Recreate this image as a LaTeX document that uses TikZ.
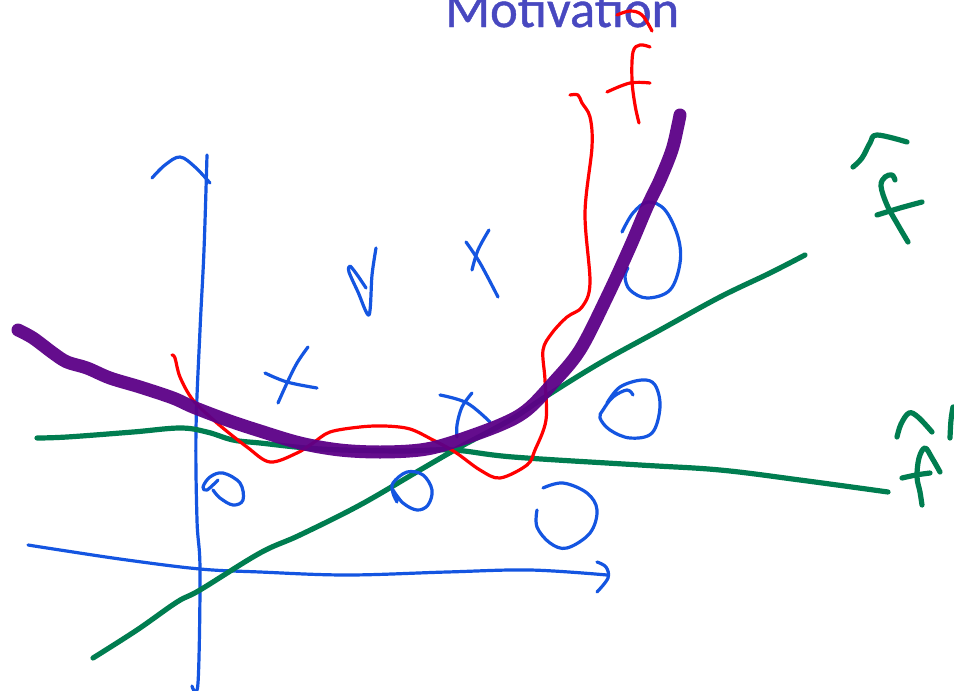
\documentclass[tikz,border=0pt]{standalone}
\usepackage{fontspec}
\newfontfamily\titlefont[FakeBold=0.8]{Carlito}
\definecolor{inkblue}{RGB}{20,85,225}
\definecolor{inkgreen}{RGB}{0,125,80}
\definecolor{inkred}{RGB}{255,0,0}
\definecolor{inkpurple}{RGB}{92,0,135}
\definecolor{titleblue}{RGB}{72,72,192}
\tikzset{
  bluepen/.style={draw=inkblue,line width=3.2pt,line cap=round,line join=round},
  greenpen/.style={draw=inkgreen,line width=5.2pt,line cap=round,line join=round},
  redpen/.style={draw=inkred,line width=3.2pt,line cap=round,line join=round},
  purplepen/.style={draw=inkpurple,line width=13pt,line cap=round,line join=round,opacity=0.95},
  titletext/.style={font=\titlefont\fontsize{52.5}{52.5}\selectfont,text=titleblue,inner sep=0pt,anchor=base west}
}
\begin{document}
\begin{tikzpicture}[x=1pt,y=-1pt]
\useasboundingbox (0,0) rectangle (954,691);
\fill[white] (0,0) rectangle (954,691);
% title
\node[titletext] (title) at (445,27) {Motivation};
% axes
\draw[bluepen] plot[smooth,tension=0.6] coordinates {(207,155) (204,250) (200,330) (196,430) (197,520) (200,570) (198,683) (192,686)};
\draw[bluepen] plot[smooth,tension=0.6] coordinates {(152,178) (165,165) (180,157) (195,167) (210,183)};
\draw[bluepen] plot[smooth,tension=0.6] coordinates {(28,545) (60,550) (127,560) (200,569) (260,572) (347,575) (447,572) (530,570) (607,575)};
\draw[bluepen] plot[smooth,tension=0.6] coordinates {(597,562) (606,567) (608,578) (597,592)};
% green lines
\draw[greenpen] plot[smooth,tension=0.6] coordinates {(93,658) (137,630) (177,602) (200,590) (260,553) (300,535) (360,505) (420,470) (460,447) (510,420) (545,397) (600,363) (660,330) (720,297) (770,273) (805,255)};
\draw[greenpen] plot[smooth,tension=0.6] coordinates {(37,438) (67,437) (133,432) (180,428) (207,432) (233,440) (260,443) (320,449) (400,451) (453,450) (513,457) (640,465) (720,470) (800,480) (888,492)};
% red curve
\draw[redpen] plot[smooth,tension=0.55] coordinates {(172,355) (175,358) (180,377) (193,400) (217,423) (247,447) (270,462) (297,453) (313,443) (330,432) (360,427) (385,426) (410,429) (433,440) (455,452) (480,470) (500,478) (527,465) (535,450) (546,420) (545,380) (543,350) (552,333) (567,317) (582,307) (590,283) (585,213) (592,147) (590,117) (582,103) (578,95) (570,95)};
% red hat f
\draw[redpen] plot[smooth,tension=0.6] coordinates {(617,15) (630,11) (642,15) (652,31)};
\draw[redpen] plot[smooth,tension=0.6] coordinates {(650,47) (640,45) (633,52) (632,80) (635,105) (639,123)};
\draw[redpen] plot[smooth,tension=0.6] coordinates {(607,92) (630,83) (650,83)};
% green hat f (upper)
\draw[greenpen] plot[smooth,tension=0.6] coordinates {(853,167) (862,158) (870,143) (877,135) (907,142)};
\draw[greenpen] plot[smooth,tension=0.6] coordinates {(895,180) (892,175) (885,177) (881,186) (887,205) (898,225) (908,242)};
\draw[greenpen] plot[smooth,tension=0.6] coordinates {(877,215) (900,208) (922,202)};
% green hat f (lower)
\draw[greenpen] plot[smooth,tension=0.6] coordinates {(897,437) (901,424) (909,413) (918,417) (932,432)};
\draw[greenpen] plot[smooth,tension=0.6] coordinates {(950,438) (951,420) (953,407)};
\draw[greenpen] plot[smooth,tension=0.6] coordinates {(940,472) (932,458) (925,448) (919,458) (917,477) (920,492) (922,505)};
\draw[greenpen] plot[smooth,tension=0.6] coordinates {(902,478) (916,475) (930,473)};
% blue marks: crosses
\draw[bluepen] plot[smooth,tension=0.6] coordinates {(265,373) (287,382) (317,388)};
\draw[bluepen] plot[smooth,tension=0.6] coordinates {(308,347) (297,363) (287,383) (278,403)};
\draw[bluepen] plot[smooth,tension=0.5] coordinates {(376,248) (372,275) (369,315) (358,292) (349,272) (350,266) (358,276) (366,288)};
\draw[bluepen] plot[smooth,tension=0.6] coordinates {(466,242) (480,263) (498,297)};
\draw[bluepen] plot[smooth,tension=0.6] coordinates {(489,230) (478,250) (472,270)};
\draw[bluepen] plot[smooth,tension=0.6] coordinates {(440,395) (467,403) (490,422)};
\draw[bluepen] plot[smooth,tension=0.6] coordinates {(472,393) (462,407) (457,425) (457,437)};
% blue marks: circles
\draw[bluepen] plot[smooth,tension=0.6] coordinates {(218,480) (207,490) (203,487) (210,477) (223,473) (240,483) (243,500) (233,505) (220,498) (213,490)};
\draw[bluepen] plot[smooth,tension=0.6] coordinates {(397,502) (393,493) (393,483) (407,472) (423,475) (432,490) (428,505) (417,510) (403,503) (393,490)};
\draw[bluepen] plot[smooth,tension=0.6] coordinates {(543,488) (563,483) (587,493) (597,510) (590,533) (567,548) (550,543) (537,527) (537,510)};
\draw[bluepen] plot[smooth,tension=0.6] coordinates {(622,232) (633,213) (648,202) (665,210) (678,237) (680,263) (670,290) (647,298) (630,290) (625,277) (628,268)};
\draw[bluepen] plot[smooth,tension=0.6] coordinates {(633,395) (627,390) (613,397) (603,410) (600,418) (610,430) (630,438) (652,433) (660,407) (655,385) (642,380) (620,387) (607,403)};
% purple curve
\draw[purplepen] plot[smooth,tension=0.55] coordinates {(18,330) (33,338) (53,353) (67,362) (87,368) (110,378) (140,387) (173,398) (193,407) (227,420) (257,430) (300,443) (340,450) (380,452) (420,450) (450,443) (500,425) (527,410) (553,383) (580,350) (607,297) (630,247) (647,207) (660,180) (672,150) (678,125) (680,115)};
\end{tikzpicture}
\end{document}
